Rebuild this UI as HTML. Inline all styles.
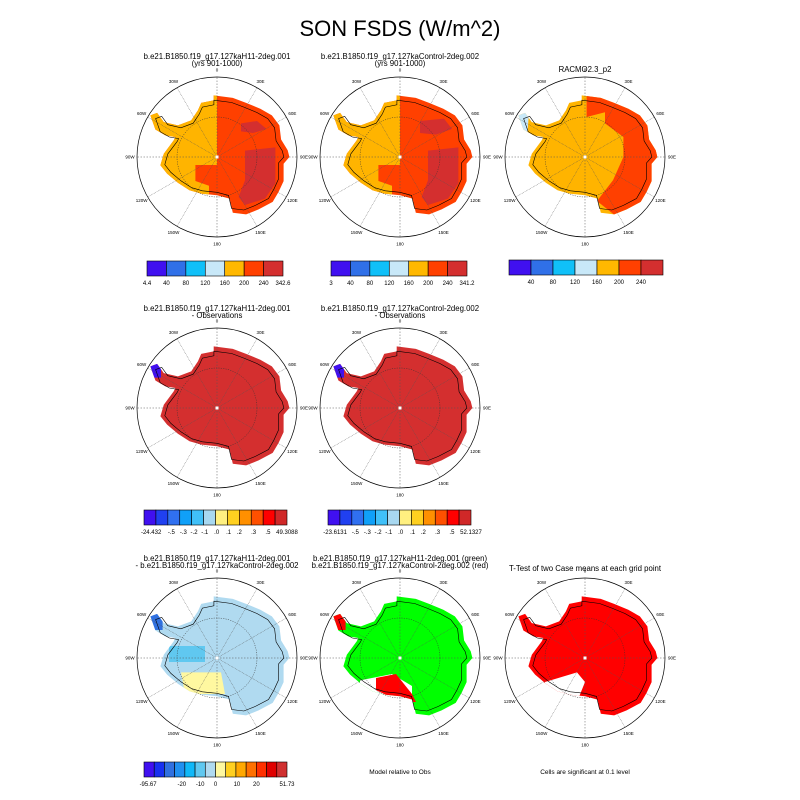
<!DOCTYPE html>
<html><head><meta charset="utf-8">
<style>
html,body{margin:0;padding:0;background:#fff;}
svg{display:block;font-family:"Liberation Sans",sans-serif;}
</style></head>
<body>
<svg id="fig" width="800" height="800" viewBox="0 0 800 800" xmlns="http://www.w3.org/2000/svg">
<rect width="800" height="800" fill="#fff"/>
<text x="400" y="36" text-anchor="middle" font-size="22">SON FSDS (W/m^2)</text>
</svg>
<script>
// ---- data ----
const lonLabels = ["0","30E","60E","90E","120E","150E","180","150W","120W","90W","60W","30W"];
const bar1Colors = ["#4010f0","#3070e8","#10c0f8","#c8e8f8","#ffb800","#ff4000","#d42f2f"];
const bar1LabelsA = ["4.4","40","80","120","160","200","240","342.6"];
const bar1LabelsB = ["3","40","80","120","160","200","240","341.2"];
const bar1LabelsC = ["","40","80","120","160","200","240",""];
const bar2Colors = ["#4010f0","#2040f0","#3070f0","#10a0f8","#40c0f8","#a8d8f0","#fff080","#ffd020","#ff9000","#ff5000","#ff0000","#d02828"];
const bar2LabelsA = ["-24.432","-.5","-.3","-.2","-.1",".0",".1",".2",".3",".5","49.3088"];
const bar2LabelsB = ["-23.6131","-.5","-.3","-.2","-.1",".0",".1",".2",".3",".5","52.1327"];
const bar2Pos = [0.6,2.3,3.3,4.2,5.1,6.1,7.1,8,9.2,10.4,12];
const bar3Colors = ["#4010f0","#1830f0","#3070e0","#2090f0","#10b8f8","#60c8f0","#b0daf0","#fff8a0","#ffd020","#ffa800","#ff7000","#ff3000","#e00000","#d03030"];
const bar3Labels = ["-95.67","-20","-10","0","10","20","51.73"];
const bar3Pos = [0.4,3.7,5.5,7,9.1,11,14];

// continent outline (normalized to radius)
const coast = [[-0.04,-0.74],[0.19,-0.71],[0.35,-0.65],[0.52,-0.58],[0.66,-0.5],[0.75,-0.38],[0.77,-0.21],[0.85,-0.08],[0.87,0],[0.8,0.08],[0.8,0.29],[0.74,0.42],[0.67,0.54],[0.5,0.63],[0.35,0.69],[0.19,0.67],[0.15,0.5],[0,0.46],[-0.19,0.44],[-0.33,0.4],[-0.47,0.31],[-0.6,0.2],[-0.68,0.1],[-0.64,-0.04],[-0.52,-0.2],[-0.5,-0.24],[-0.62,-0.26],[-0.74,-0.33],[-0.8,-0.5],[-0.72,-0.53],[-0.64,-0.42],[-0.47,-0.38],[-0.31,-0.44],[-0.23,-0.56],[-0.19,-0.65],[-0.04,-0.68]];

const NS="http://www.w3.org/2000/svg";
const svg=document.getElementById('fig');
function el(tag,attrs,parent){const e=document.createElementNS(NS,tag);for(const k in attrs)e.setAttribute(k,attrs[k]);(parent||svg).appendChild(e);return e;}
function txt(x,y,s,size,anchor,parent){const t=el('text',{x:x,y:y,'font-size':size,'text-anchor':anchor||'middle'},parent);t.textContent=s;return t;}
function pts(list,cx,cy,r,sc){sc=sc||1;return list.map(p=>(cx+p[0]*r*sc).toFixed(1)+','+(cy+p[1]*r*sc).toFixed(1)).join(' ');}
let clipId=0;

function panel(name,cx,cy,r,layers){
  const g=el('g',{});
  
  
  const id='clip'+(clipId++);
  const cp=el('clipPath',{id:id},g);
  el('polygon',{points:pts(coast,cx,cy,r,1.04)},cp);
  const fg=el('g',{'clip-path':'url(#'+id+')'},g);
  layers.forEach(L=>{
    if(L.all) el('rect',{x:cx-r,y:cy-r,width:2*r,height:2*r,fill:L.c},fg);
    else el('polygon',{points:pts(L.p,cx,cy,r),fill:L.c},fg);
  });
  el('circle',{cx:cx,cy:cy,r:r*0.5,fill:'none',stroke:'#333','stroke-width':0.5,'stroke-dasharray':'1.2,1.2'},g);
  for(let i=0;i<12;i++){
    const a=i*Math.PI/6;
    const dx=Math.sin(a),dy=-Math.cos(a);
    el('line',{x1:cx,y1:cy,x2:cx+dx*r,y2:cy+dy*r,stroke:'#555','stroke-width':0.5,'stroke-dasharray':(i%3==0)?'1.5,1.5':'0.8,0.8'},g);
    const t=txt(cx+dx*(r+7),cy+dy*(r+7)+1.5,lonLabels[i],4.5,'middle',g);
    
    
  }
  el('polygon',{points:pts(coast,cx,cy,r,0.96),fill:'none',stroke:'#000','stroke-width':0.6},g);
  el('circle',{cx:cx,cy:cy,r:r,fill:'none',stroke:'#000','stroke-width':0.7},g);
  el('rect',{x:cx-1.5,y:cy-1.5,width:3,height:3,fill:'#fff'},g);
}

function colorbar(name,x,y,w,h,colors,labels,pos){
  const g=el('g',{});
  
  
  const bw=w/colors.length;
  colors.forEach((c,i)=>{el('rect',{x:x+i*bw,y:y,width:bw,height:h,fill:c,stroke:'#000','stroke-width':0.6},g);});
  labels.forEach((s,i)=>{ if(!s)return; const k=pos?pos[i]:i; txt(x+k*bw,y+h+9,s,6,'middle',g);});
}

function title(lines,x,y,name){
  lines.forEach((s,i)=>{const t=txt(x,y+i*7,s,7.8);
    
    });
}

const R=80;
const cols=[217,400,585], rows=[157,408,658];
const yellowL={c:'#ffb400',p:[[-1,-1],[0,-1],[0,0.1],[-0.27,0.1],[-0.27,0.3],[-0.1,0.36],[-0.1,1],[-1,1]]};
const dark1={c:'#d42f2f',p:[[0.35,-0.08],[0.73,-0.12],[0.73,0.33],[0.6,0.52],[0.35,0.6],[0.27,0.5],[0.35,0.29],[0.35,0.08]]};
const dark2={c:'#d42f2f',p:[[0.3,-0.42],[0.5,-0.45],[0.62,-0.35],[0.45,-0.3],[0.3,-0.32]]};
panel('map-h11',cols[0],rows[0],R,[{all:1,c:'#ff4000'},yellowL,dark1,dark2]);
panel('map-control',cols[1],rows[0],R,[{all:1,c:'#ff4000'},yellowL,dark1,{c:'#d42f2f',p:[[0.25,-0.45],[0.55,-0.48],[0.65,-0.35],[0.45,-0.28],[0.25,-0.3]]}]);
panel('map-racmo',cols[2],rows[0],R,[{all:1,c:'#ffb400'},{c:'#ff4000',p:[[0.02,-0.8],[0.64,-0.6],[0.9,-0.21],[0.9,0.21],[0.75,0.6],[0.4,0.75],[0.15,0.55],[0.35,0.29],[0.48,0],[0.48,-0.25],[0.25,-0.42],[0.25,-0.56],[0.02,-0.5]]},{c:'#c8e8f8',p:[[-0.85,-0.55],[-0.7,-0.55],[-0.72,-0.3],[-0.85,-0.3]]}]);
title(["b.e21.B1850.f19_g17.127kaH11-2deg.001","(yrs 901-1000)"],cols[0],59,'title-h11');
title(["b.e21.B1850.f19_g17.127kaControl-2deg.002","(yrs 901-1000)"],cols[1],59,'title-control');
title(["RACMO2.3_p2"],cols[2],72,'title-racmo');
colorbar('colorbar-h11',147,261,136,15,bar1Colors,bar1LabelsA);
colorbar('colorbar-control',331,261,136,15,bar1Colors,bar1LabelsB);
colorbar('colorbar-racmo',509,260,154,15,bar1Colors,bar1LabelsC);
panel('map-h11-minus-obs',cols[0],rows[1],R,[{all:1,c:'#d42f2f'},{c:'#4010f0',p:[[-0.85,-0.55],[-0.7,-0.55],[-0.7,-0.38],[-0.85,-0.38]]}]);
panel('map-control-minus-obs',cols[1],rows[1],R,[{all:1,c:'#d42f2f'},{c:'#4010f0',p:[[-0.85,-0.55],[-0.7,-0.55],[-0.7,-0.38],[-0.85,-0.38]]}]);
title(["b.e21.B1850.f19_g17.127kaH11-2deg.001","- Observations"],cols[0],311,'title-h11-obs');
title(["b.e21.B1850.f19_g17.127kaControl-2deg.002","- Observations"],cols[1],311,'title-control-obs');
colorbar('colorbar-h11-obs',144,510,143,15,bar2Colors,bar2LabelsA,bar2Pos);
colorbar('colorbar-control-obs',328,510,143,15,bar2Colors,bar2LabelsB,bar2Pos);
panel('map-difference',cols[0],rows[2],R,[{all:1,c:'#b0daf0'},{c:'#60c8f0',p:[[-0.6,-0.15],[-0.15,-0.15],[-0.15,0.05],[-0.6,0.05]]},{c:'#fff8a0',p:[[-0.45,0.18],[0.05,0.18],[0.1,0.45],[-0.4,0.45]]},{c:'#3070e0',p:[[-0.85,-0.55],[-0.68,-0.55],[-0.68,-0.35],[-0.85,-0.35]]}]);
panel('map-model-vs-obs',cols[1],rows[2],R,[{all:1,c:'#00ff00'},{c:'#fff',p:[[-0.5,0.28],[-0.1,0.2],[0.15,0.35],[0.15,0.6],[-0.5,0.6]]},{c:'#ff0000',p:[[-0.3,0.25],[-0.05,0.2],[0.15,0.45],[0.2,0.55],[0.0,0.55],[-0.3,0.4]]},{c:'#ff0000',p:[[-0.85,-0.55],[-0.68,-0.55],[-0.68,-0.35],[-0.85,-0.35]]}]);
panel('map-ttest',cols[2],rows[2],R,[{all:1,c:'#ff0000'},{c:'#fff',p:[[-0.5,0.3],[-0.1,0.18],[0.0,0.3],[-0.1,0.55],[-0.5,0.55]]}]);
title(["b.e21.B1850.f19_g17.127kaH11-2deg.001","- b.e21.B1850.f19_g17.127kaControl-2deg.002"],cols[0],561,'title-difference');
title(["b.e21.B1850.f19_g17.127kaH11-2deg.001 (green)","b.e21.B1850.f19_g17.127kaControl-2deg.002 (red)"],cols[1],561,'title-model-vs-obs');
title(["T-Test of two Case means at each grid point"],cols[2],571,'title-ttest');
colorbar('colorbar-difference',144,762,143,15,bar3Colors,bar3Labels,bar3Pos);
const t1=txt(400,774,"Model relative to Obs",6.5);


const t2=txt(585,774,"Cells are significant at 0.1 level",6.5);


</script>
</body></html>
